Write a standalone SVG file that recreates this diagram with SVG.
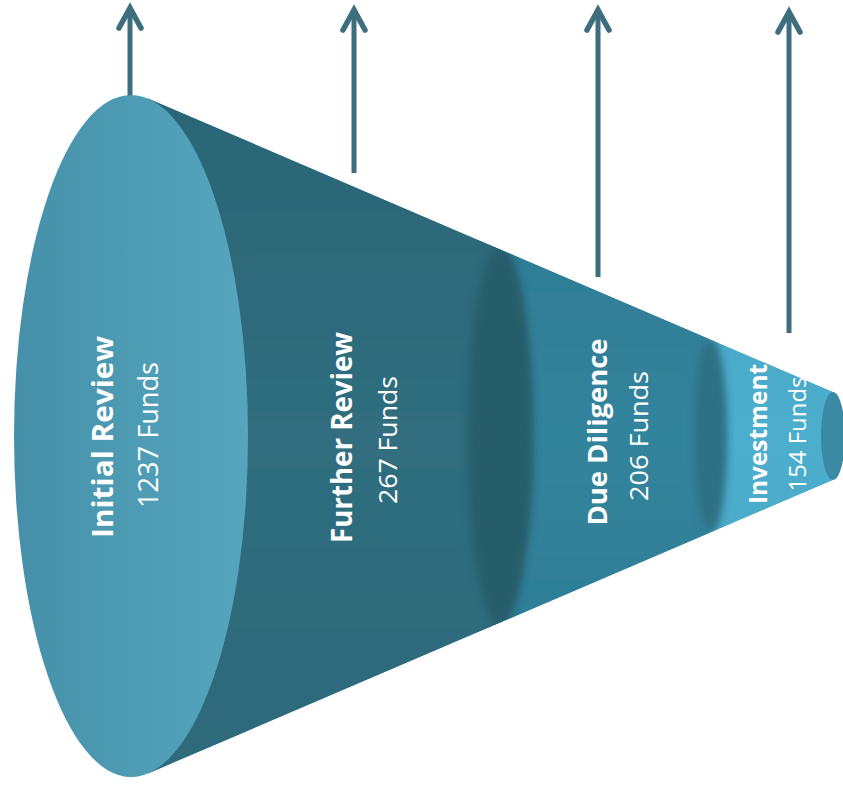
<svg xmlns="http://www.w3.org/2000/svg" width="843" height="786" viewBox="0 0 843 786">
  <style>
    .title { font-family: "Open Sans", "Liberation Sans", sans-serif; font-weight: bold; fill: #ffffff; }
    .count { font-family: "Open Sans", "Liberation Sans", sans-serif; font-weight: normal; fill: #ffffff; }
    .arrow { stroke: #3e6e7d; stroke-width: 5; fill: none; marker-end: url(#head); }
    .band { filter: url(#soft); }
  </style>
  <defs>
    <marker id="head" markerUnits="userSpaceOnUse" orient="auto" viewBox="-26 -15 30 30" markerWidth="30" markerHeight="30" refX="0" refY="0" overflow="visible">
      <path d="M-20,-11 L0,0 L-20,11" fill="none" stroke="#3e6e7d" stroke-width="5.5" stroke-linejoin="miter" stroke-linecap="round"/>
    </marker>
    <clipPath id="cone">
      <path d="M148,98.6 L833,392 L833,480 L148,773.4 Z"/>
    </clipPath>
    <filter id="soft" x="-20%" y="-5%" width="140%" height="110%">
      <feGaussianBlur stdDeviation="4"/>
    </filter>
    <linearGradient id="gInit" x1="0" y1="0" x2="1" y2="0">
      <stop offset="0" stop-color="#4690a9"/>
      <stop offset="0.6" stop-color="#4f9db6"/>
      <stop offset="1" stop-color="#56a5bd"/>
    </linearGradient>
    <linearGradient id="gFurther" gradientUnits="userSpaceOnUse" x1="0" y1="100" x2="0" y2="770">
      <stop offset="0" stop-color="#2b6676"/>
      <stop offset="0.5" stop-color="#306e7f"/>
      <stop offset="1" stop-color="#2d6a7a"/>
    </linearGradient>
    <linearGradient id="gDue" gradientUnits="userSpaceOnUse" x1="0" y1="250" x2="0" y2="620">
      <stop offset="0" stop-color="#2f7d95"/>
      <stop offset="0.5" stop-color="#32849c"/>
      <stop offset="1" stop-color="#2f7f97"/>
    </linearGradient>
    <linearGradient id="gInv" x1="0" y1="0" x2="0" y2="1">
      <stop offset="0" stop-color="#45a2c2"/>
      <stop offset="0.5" stop-color="#4cadcc"/>
      <stop offset="1" stop-color="#46a5c4"/>
    </linearGradient>
  </defs>

  <g id="connectors">
    <line class="arrow" x1="130" y1="100" x2="130" y2="8"/>
    <line class="arrow" x1="354" y1="173" x2="354" y2="10"/>
    <line class="arrow" x1="598" y1="277" x2="598" y2="10"/>
    <line class="arrow" x1="789" y1="333" x2="789" y2="12"/>
  </g>

  <g id="investment">
    <path d="M148,98.6 L833,392 L833,480 L148,773.4 Z" fill="url(#gInv)"/>
    <ellipse cx="833" cy="436" rx="12" ry="44" fill="#3a8aa3"/>
    <text class="title" font-size="25" text-anchor="middle" textLength="140" lengthAdjust="spacingAndGlyphs" transform="translate(767,434) rotate(-90)">Investment</text>
    <text class="count" font-size="23" text-anchor="middle" textLength="115" lengthAdjust="spacingAndGlyphs" transform="translate(806,434) rotate(-90)">154 Funds</text>
  </g>

  <g id="due-diligence">
    <g clip-path="url(#cone)">
      <path class="band" d="M480,60 L710,60 L710,339.2 A16,97 0 0 1 710,532.8 L710,820 L480,820 Z" fill="url(#gDue)"/>
      <ellipse class="band" cx="710" cy="436" rx="16" ry="97" fill="#2f6f84"/>
    </g>
    <text class="title" font-size="27" text-anchor="middle" textLength="187" lengthAdjust="spacingAndGlyphs" transform="translate(607,432) rotate(-90)">Due Diligence</text>
    <text class="count" font-size="26" text-anchor="middle" textLength="130" lengthAdjust="spacingAndGlyphs" transform="translate(648,436) rotate(-90)">206 Funds</text>
  </g>

  <g id="further-review">
    <g clip-path="url(#cone)">
      <path class="band" d="M110,40 L500,40 L500,249.3 A32,187 0 0 1 500,622.7 L500,830 L110,830 Z" fill="url(#gFurther)"/>
      <ellipse class="band" cx="500" cy="436" rx="33" ry="190" fill="#285d6b"/>
    </g>
    <text class="title" font-size="29" text-anchor="middle" textLength="211" lengthAdjust="spacingAndGlyphs" transform="translate(352,437.5) rotate(-90)">Further Review</text>
    <text class="count" font-size="26" text-anchor="middle" textLength="128" lengthAdjust="spacingAndGlyphs" transform="translate(397,440) rotate(-90)">267 Funds</text>
  </g>

  <g id="initial-review">
    <ellipse cx="131" cy="436" rx="117" ry="341" fill="url(#gInit)"/>
    <text class="title" font-size="29" text-anchor="middle" textLength="202" lengthAdjust="spacingAndGlyphs" transform="translate(113,437) rotate(-90)">Initial Review</text>
    <text class="count" font-size="27" text-anchor="middle" textLength="146" lengthAdjust="spacingAndGlyphs" transform="translate(158,435) rotate(-90)">1237 Funds</text>
  </g>
</svg>
